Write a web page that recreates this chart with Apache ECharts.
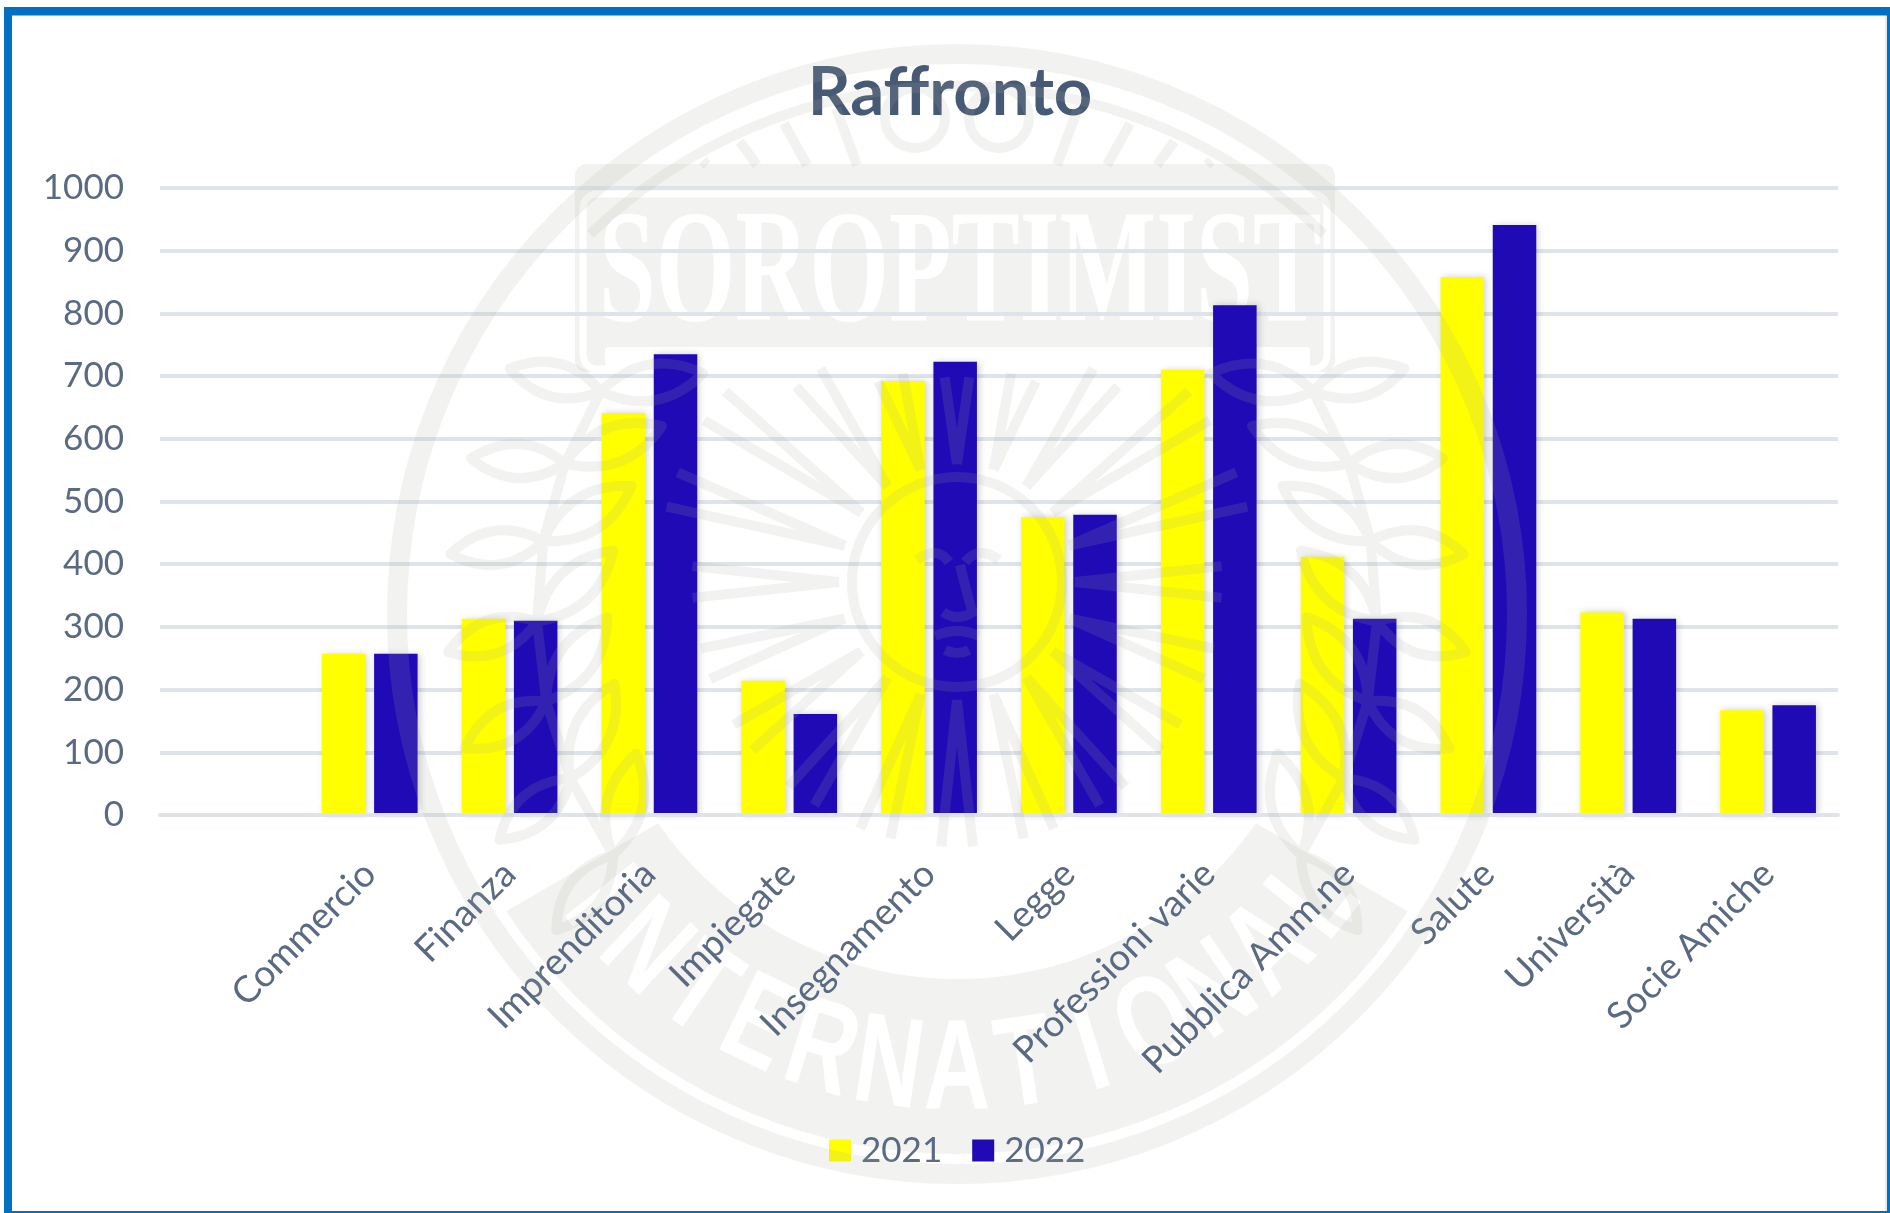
<!DOCTYPE html>
<html lang="it">
<head>
<meta charset="utf-8">
<title>Raffronto</title>
<script src="https://cdn.jsdelivr.net/npm/echarts@6/dist/echarts.min.js"></script>
<style>
  html, body { margin: 0; padding: 0; background: #fff; }
  #chart { width: 1890px; height: 1213px; }
</style>
</head>
<body>
<div id="chart"></div>
<script>
// first category is empty: the original chart leaves a blank slot before Commercio
const categories = ['', 'Commercio', 'Finanza', 'Imprenditoria', 'Impiegate', 'Insegnamento', 'Legge', 'Professioni varie', 'Pubblica Amm.ne', 'Salute', 'Università', 'Socie Amiche']
const values2021 = [null, 257, 313, 641, 214, 692, 475, 710, 412, 858, 323, 167]
const values2022 = [null, 257, 310, 735, 161, 723, 479, 813, 313, 941, 313, 175]

const textColor = '#5a6a82'
const gridColor = '#dfe4ea'
const sealFill = '#f2f2f0'
const sealStroke = 'rgba(165,165,155,0.15)'
const font = 'Lato, "Open Sans", sans-serif'

// watermark seal centre
const cx = 957
const cy = 614

function polar(r, deg) {
  const a = deg * Math.PI / 180
  return [cx + r * Math.cos(a), cy + r * Math.sin(a)]
}

function circlePath(x, y, r) {
  return `M${x - r} ${y}A${r} ${r} 0 1 0 ${x + r} ${y}A${r} ${r} 0 1 0 ${x - r} ${y}Z`
}

function leafPath(x, y, deg, len, wid) {
  const a = deg * Math.PI / 180
  const ux = Math.cos(a), uy = Math.sin(a)
  const mx = x + ux * len * 0.5, my = y + uy * len * 0.5
  const tx = x + ux * len, ty = y + uy * len
  return `M${x} ${y}Q${mx - uy * wid} ${my + ux * wid} ${tx} ${ty}Q${mx + uy * wid} ${my - ux * wid} ${x} ${y}Z`
}

// strokes of the seal that also tint the bars, all one path so overlaps do not darken twice
function sealLines() {
  let d = ''
  // top arc above the banner
  const arc = (r, a, b) => {
    const p = polar(r, a), q = polar(r, b)
    return `M${p[0]} ${p[1]}A${r} ${r} 0 0 1 ${q[0]} ${q[1]}`
  }
  d += arc(528, 226, 314)

  // rays of the dome, fanning up from the banner to the arc
  for (let k = -6; k <= 6; k++) {
    if (Math.abs(k) < 2) continue
    const bx = cx + k * 50
    const ux = (bx - cx) / 270, uy = -1
    // where the ray meets the arc
    const py = 165 - cy
    const a = ux * ux + uy * uy
    const b = 2 * ((bx - cx) * ux + py * uy)
    const c = (bx - cx) * (bx - cx) + py * py - 520 * 520
    const disc = b * b - 4 * a * c
    if (disc < 0) continue
    const t = (-b + Math.sqrt(disc)) / (2 * a)
    if (t <= 0) continue
    d += `M${bx} 165L${bx + ux * t} ${165 + uy * t}`
  }
  d += circlePath(cx - 42, 118, 30) + circlePath(cx + 42, 118, 30)

  // head and its rays
  d += circlePath(cx, 582, 105)
  for (let deg = 0; deg < 360; deg += 18) {
    const a = deg * Math.PI / 180
    const inner = 118
    const outer = (deg > 180 && deg < 360) ? Math.min(300, 205 / Math.max(Math.abs(Math.sin(a)), 0.55)) : 265
    const x1 = cx + inner * Math.cos(a), y1 = 582 + inner * Math.sin(a)
    const x2 = cx + outer * Math.cos(a - 0.06), y2 = 582 + outer * Math.sin(a - 0.06)
    const x3 = cx + outer * Math.cos(a + 0.06), y3 = 582 + outer * Math.sin(a + 0.06)
    d += `M${x1} ${y1}L${x2} ${y2}M${x1} ${y1}L${x3} ${y3}`
  }
  // face
  d += `M${cx - 40} 560Q${cx - 20} 545 ${cx - 8} 562M${cx + 8} 562Q${cx + 22} 545 ${cx + 42} 560`
  d += `M${cx + 3} 565Q${cx + 14} 610 ${cx + 16} 612Q${cx} 622 ${cx - 14} 612`
  d += `M${cx - 22} 636Q${cx} 626 ${cx + 22} 636M${cx - 12} 650Q${cx} 656 ${cx + 12} 650`

  // laurel branches, left and mirrored right
  const stemAngles = [145, 157, 168, 179, 190, 201, 212]
  stemAngles.forEach((deg, i) => {
    const l = polar(420, deg)
    const rx = 2 * cx - l[0]
    const tilt = 60 + deg
    d += leafPath(l[0], l[1], tilt + 78, 104, 36) + leafPath(l[0], l[1], tilt - 78, 94, 34)
    d += leafPath(rx, l[1], 180 - (tilt + 78), 104, 36) + leafPath(rx, l[1], 180 - (tilt - 78), 94, 34)
    if (i < stemAngles.length - 1) {
      const n = polar(420, stemAngles[i + 1])
      d += `M${l[0]} ${l[1]}L${n[0]} ${n[1]}M${rx} ${l[1]}L${2 * cx - n[0]} ${n[1]}`
    }
  })
  return d
}

function bottomBand() {
  const a = polar(540, 33.4), b = polar(540, 146.6)
  const c = polar(365, 145), d = polar(365, 35)
  return `M${a[0]} ${a[1]}A540 540 0 0 1 ${b[0]} ${b[1]}L${c[0]} ${c[1]}A365 365 0 0 0 ${d[0]} ${d[1]}Z`
}

// graphic has no plain path type, so the two outlines are registered as shapes
echarts.graphic.registerShape('sealLines', echarts.graphic.extendPath(sealLines()))
echarts.graphic.registerShape('sealBand', echarts.graphic.extendPath(bottomBand()))

const bandLetters = 'INTERNATIONAL'.split('').map((ch, i) => {
  const theta = (i - 6) * 8.6 * Math.PI / 180
  return {
    type: 'text',
    z: -1,
    silent: true,
    x: cx + 460 * Math.sin(theta),
    y: cy + 460 * Math.cos(theta),
    rotation: theta,
    scaleX: 0.72,
    style: {
      text: ch, x: 0, y: 0, align: 'center', verticalAlign: 'middle',
      fill: '#fff', font: 'bold 128px "Liberation Sans", sans-serif'
    }
  }
})

const chart = echarts.init(document.getElementById('chart'), null, { renderer: 'canvas' })

chart.setOption({
  animation: false,
  backgroundColor: '#ffffff',
  title: {
    text: 'Raffronto',
    left: 945,
    top: 55,
    textAlign: 'center',
    textStyle: { color: '#475a75', fontFamily: font, fontWeight: 'bold', fontSize: 67 }
  },
  legend: {
    data: ['2021', '2022'],
    left: 824,
    top: 1128,
    itemWidth: 22,
    itemHeight: 22,
    itemGap: 30,
    icon: 'rect',
    textStyle: { color: textColor, fontFamily: font, fontSize: 35, padding: [0, 0, 0, 5] }
  },
  grid: { left: 160, right: 52, top: 188, bottom: 398 },
  xAxis: {
    type: 'category',
    data: categories,
    z: 3,
    axisLine: { show: true, lineStyle: { color: gridColor, width: 4 } },
    axisTick: { show: false },
    axisLabel: { interval: 0, rotate: 45, margin: 53, color: textColor, fontFamily: font, fontSize: 37 }
  },
  yAxis: {
    type: 'value',
    min: 0,
    max: 1000,
    interval: 100,
    axisLine: { show: false },
    axisTick: { show: false },
    axisLabel: { margin: 36, color: textColor, fontFamily: font, fontSize: 35, lineHeight: 40, padding: [4, 0, 0, 0], formatter: (v) => String(v) },
    splitLine: { lineStyle: { color: gridColor, width: 4 } }
  },
  series: [
    {
      name: '2021',
      type: 'bar',
      data: values2021,
      barWidth: 43.5,
      barGap: '20%',
      itemStyle: { color: '#ffff00', shadowColor: 'rgba(0,0,0,0.2)', shadowBlur: 7, shadowOffsetX: 2 }
    },
    {
      name: '2022',
      type: 'bar',
      data: values2022,
      barWidth: 43.5,
      itemStyle: { color: '#1f0ab6', shadowColor: 'rgba(0,0,0,0.2)', shadowBlur: 7, shadowOffsetX: 2 }
    }
  ],
  graphic: [
    // seal, parts behind the chart
    { type: 'sealBand', z: -1, silent: true, style: { fill: sealFill } },
    ...bandLetters,
    { type: 'rect', z: -1, silent: true, shape: { x: 575, y: 164, width: 760, height: 208, r: 12 }, style: { fill: sealFill } },
    { type: 'rect', z: -1, silent: true, shape: { x: 583, y: 194, width: 744, height: 175, r: 14 }, style: { fill: 'none', stroke: '#fff', lineWidth: 7 } },
    { type: 'rect', z: -1, silent: true, shape: { x: 605, y: 347, width: 705, height: 20, r: 4 }, style: { fill: '#fff' } },
    {
      type: 'text', z: -1, silent: true, x: 960, y: 279, scaleX: 0.64,
      style: { text: 'SOROPTIMIST', x: 0, y: 0, align: 'center', verticalAlign: 'middle', fill: '#fff', font: 'bold 160px "Liberation Serif", serif' }
    },
    // seal, parts over the chart
    { type: 'circle', z: 20, silent: true, shape: { cx: cx, cy: cy, r: 560 }, style: { fill: 'none', stroke: sealStroke, lineWidth: 20 } },
    { type: 'sealLines', z: 20, silent: true, style: { fill: 'none', stroke: sealStroke, lineWidth: 10, lineJoin: 'round' } },
    // frame of the picture
    { type: 'rect', z: 30, silent: true, shape: { x: 1885, y: 15, width: 2, height: 1196 }, style: { fill: '#e6e8ec' } },
    { type: 'rect', z: 31, silent: true, shape: { x: 4, y: 7, width: 8, height: 1206 }, style: { fill: '#0070c0' } },
    { type: 'rect', z: 31, silent: true, shape: { x: 4, y: 7, width: 1886, height: 8.5 }, style: { fill: '#0070c0' } },
    { type: 'rect', z: 31, silent: true, shape: { x: 1887, y: 7, width: 3, height: 1206 }, style: { fill: '#0070c0' } },
    { type: 'rect', z: 31, silent: true, shape: { x: 4, y: 1211, width: 1886, height: 2 }, style: { fill: '#0070c0' } }
  ]
})
</script>
</body>
</html>
